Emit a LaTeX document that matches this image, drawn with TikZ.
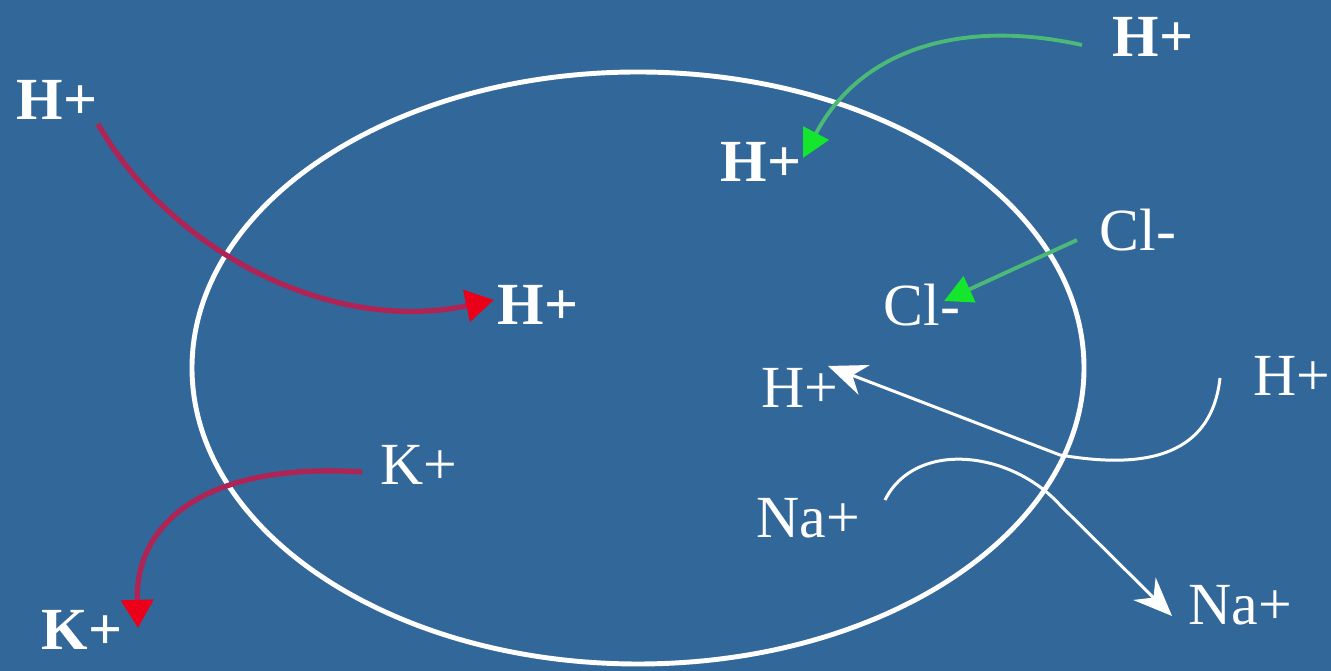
\documentclass[tikz,border=0pt]{standalone}
\usepackage{fontspec}
\setmainfont{Liberation Serif}
\usetikzlibrary{arrows.meta}
\definecolor{bg}{RGB}{50,103,153}
\definecolor{redline}{RGB}{175,35,85}
\definecolor{redhead}{RGB}{235,0,25}
\definecolor{greenline}{RGB}{75,185,120}
\definecolor{greenhead}{RGB}{20,230,45}
\tikzset{
  lbl/.style={text=white,inner sep=0pt,font=\fontsize{17}{19}\selectfont},
  blbl/.style={lbl,font=\fontsize{17}{19}\selectfont\bfseries},
  redarrow/.style={draw=redline,line width=1.5pt,-{Triangle[length=8pt,width=9pt,color=redhead]}},
  greenarrow/.style={draw=greenline,line width=1.1pt,-{Triangle[length=8pt,width=8pt,color=greenhead]}},
  whitearrow/.style={draw=white,line width=0.85pt,-{Stealth[length=11pt,width=9pt]}},
  membrane/.style={draw=white,line width=1.4pt}
}
\begin{document}
\begin{tikzpicture}[x=0.01cm,y=-0.01cm]
\useasboundingbox (0,0) rectangle (1331,671);
\fill[bg] (0,0) rectangle (1331,671);
\draw[membrane] (638,368) ellipse [x radius=446, y radius=296];
% labels
\node[blbl] (hTL) at (57,100) {H+};
\node[blbl] (hC) at (538,305) {H+};
\node[blbl] (hTR) at (1153,37) {H+};
\node[blbl] (hG) at (761,162) {H+};
\node[lbl] (clR) at (1138,230) {Cl-};
\node[lbl] (clI) at (922,305) {Cl-};
\node[lbl] (hW) at (800,388) {H+};
\node[lbl] (hR) at (1292,376) {H+};
\node[lbl] (naL) at (808,518) {Na+};
\node[lbl] (naR) at (1240,605) {Na+};
\node[lbl] (kM) at (419,465) {K+};
\node[blbl] (kBL) at (82,630) {K+};
% coordinates for arrow ends
\coordinate (hTLs) at (98,124);
\coordinate (hCe) at (494,300);
\coordinate (kMs) at (362,472);
\coordinate (kBLe) at (138,628);
\coordinate (hTRs) at (1082,45);
\coordinate (hGe) at (803,158);
\coordinate (clRs) at (1077,240);
\coordinate (clIe) at (944,301);
\coordinate (hRs) at (1220,378);
\coordinate (hWe) at (828,366);
\coordinate (naLs) at (885,500);
\coordinate (naRe) at (1172,616);
% arrows
\draw[redarrow] (hTLs) .. controls (170,250) and (330,335) .. (hCe);
\draw[redarrow] (kMs) .. controls (210,462) and (135,520) .. (kBLe);
\draw[greenarrow] (hTRs) .. controls (960,18) and (860,50) .. (hGe);
\draw[greenarrow] (clRs) -- (clIe);
\draw[whitearrow] (hRs) .. controls (1210,470) and (1120,465) .. (1060,455) -- (hWe);
\draw[whitearrow] (naLs) .. controls (915,440) and (1010,450) .. (1060,505) -- (naRe);
\end{tikzpicture}
\end{document}
